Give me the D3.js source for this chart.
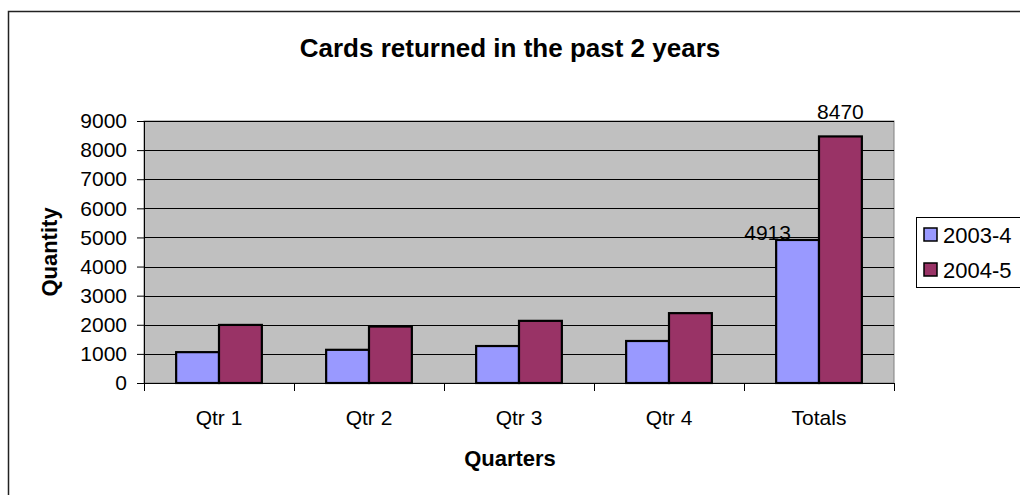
<!DOCTYPE html>
<html>
<head>
<meta charset="utf-8">
<script src="https://cdn.jsdelivr.net/npm/d3@7"></script>
<style>
  body { margin: 0; background: #fff; }
  svg { display: block; font-family: Arial, "Liberation Sans", sans-serif; }
</style>
</head>
<body>
<script>
// Data
var quarters = ["Qtr 1", "Qtr 2", "Qtr 3", "Qtr 4", "Totals"];
var seriesNames = ["2003-4", "2004-5"];
var values0304 = [1060, 1140, 1270, 1443, 4913];
var values0405 = [1995, 1940, 2135, 2400, 8470];
var yTicks = [0, 1000, 2000, 3000, 4000, 5000, 6000, 7000, 8000, 9000];
var colors = ["#9999FF", "#993366"];

var width = 1020, height = 495;

var svg = d3.select("body").append("svg")
    .attr("width", width)
    .attr("height", height);

// chart area border (only left and top show in the crop)
svg.append("path")
    .attr("d", "M8.5," + height + "V11.5H" + width)
    .attr("fill", "none")
    .attr("stroke", "#222")
    .attr("stroke-width", 1.5);

// Title
svg.append("text")
    .attr("x", 510)
    .attr("y", 57)
    .attr("text-anchor", "middle")
    .attr("font-weight", "bold")
    .attr("font-size", "26px")
    .text("Cards returned in the past 2 years");

// Plot area
var plot = { left: 144, right: 894, top: 121, bottom: 383 };

var x = d3.scaleBand()
    .domain(quarters)
    .range([plot.left, plot.right]);

var x1 = d3.scaleBand()
    .domain(seriesNames)
    .range([0, x.bandwidth()])
    .paddingOuter(0.75);

var y = d3.scaleLinear()
    .domain([0, 9000])
    .range([plot.bottom, plot.top]);

svg.append("rect")
    .attr("x", plot.left)
    .attr("y", plot.top)
    .attr("width", plot.right - plot.left)
    .attr("height", plot.bottom - plot.top)
    .attr("fill", "#C0C0C0")
    .attr("stroke", "#808080")
    .attr("stroke-width", 1);

// gridlines
svg.append("g")
    .selectAll("line")
    .data(yTicks.filter(function (d) { return d > 0; }))
    .enter().append("line")
    .attr("x1", plot.left)
    .attr("x2", plot.right)
    .attr("y1", function (d) { return Math.round(y(d)) + 0.5; })
    .attr("y2", function (d) { return Math.round(y(d)) + 0.5; })
    .attr("stroke", "#000")
    .attr("stroke-width", 1);

// Bars
var rows = quarters.map(function (q, i) {
    return { q: q, vals: [values0304[i], values0405[i]] };
});

var groups = svg.append("g")
    .selectAll("g")
    .data(rows)
    .enter().append("g")
    .attr("transform", function (d) { return "translate(" + x(d.q) + ",0)"; });

groups.selectAll("rect")
    .data(function (d) {
        return d.vals.map(function (v, j) { return { s: seriesNames[j], v: v, j: j }; });
    })
    .enter().append("rect")
    .attr("x", function (d) { return x1(d.s); })
    .attr("y", function (d) { return y(d.v); })
    .attr("width", x1.bandwidth())
    .attr("height", function (d) { return y(0) - y(d.v); })
    .attr("fill", function (d) { return colors[d.j]; })
    .attr("stroke", "#000")
    .attr("stroke-width", 2.2);

// Y axis
var yAxis = d3.axisLeft(y)
    .tickValues(yTicks)
    .tickSize(7)
    .tickPadding(10)
    .tickFormat(d3.format("d"));

var gy = svg.append("g")
    .attr("transform", "translate(" + plot.left + ",0)")
    .call(yAxis);
gy.select(".domain").attr("stroke", "#000");
gy.selectAll("text")
    .attr("font-size", "21px")
    .attr("font-family", "Arial, 'Liberation Sans', sans-serif")
    .attr("fill", "#000");

// X axis: ticks at category boundaries
svg.append("line")
    .attr("x1", plot.left)
    .attr("x2", plot.right)
    .attr("y1", plot.bottom + 0.5)
    .attr("y2", plot.bottom + 0.5)
    .attr("stroke", "#000");

var bounds = quarters.map(function (q) { return x(q); }).concat([x(quarters[quarters.length - 1]) + x.bandwidth()]);
svg.append("g")
    .selectAll("line")
    .data(bounds)
    .enter().append("line")
    .attr("x1", function (d) { return Math.round(d) + 0.5; })
    .attr("x2", function (d) { return Math.round(d) + 0.5; })
    .attr("y1", plot.bottom)
    .attr("y2", plot.bottom + 8)
    .attr("stroke", "#000");

svg.append("g")
    .selectAll("text")
    .data(quarters)
    .enter().append("text")
    .attr("x", function (d) { return x(d) + x.bandwidth() / 2; })
    .attr("y", 425)
    .attr("text-anchor", "middle")
    .attr("font-size", "21px")
    .text(function (d) { return d; });

// Axis titles
svg.append("text")
    .attr("x", 510)
    .attr("y", 466)
    .attr("text-anchor", "middle")
    .attr("font-weight", "bold")
    .attr("font-size", "22px")
    .text("Quarters");

svg.append("text")
    .attr("transform", "translate(57,252) rotate(-90)")
    .attr("text-anchor", "middle")
    .attr("font-weight", "bold")
    .attr("font-size", "22px")
    .text("Quantity");

// Data labels on the Totals bars
var last = quarters.length - 1;
var labelOffsets = [{ dx: -30, dy: 0 }, { dx: 0, dy: -17 }];
seriesNames.forEach(function (s, j) {
    var v = j === 0 ? values0304[last] : values0405[last];
    svg.append("text")
        .attr("x", x(quarters[last]) + x1(s) + x1.bandwidth() / 2 + labelOffsets[j].dx)
        .attr("y", y(v) + labelOffsets[j].dy)
        .attr("text-anchor", "middle")
        .attr("font-size", "21px")
        .text(v);
});

// Legend
var legend = svg.append("g")
    .attr("transform", "translate(916,217)");

legend.append("rect")
    .attr("x", 0.5)
    .attr("y", 0.5)
    .attr("width", 110)
    .attr("height", 70)
    .attr("fill", "#fff")
    .attr("stroke", "#000");

var items = legend.selectAll("g.item")
    .data(seriesNames)
    .enter().append("g")
    .attr("class", "item")
    .attr("transform", function (d, i) { return "translate(8," + (18 + i * 35) + ")"; });

items.append("rect")
    .attr("x", 0)
    .attr("y", -7)
    .attr("width", 13)
    .attr("height", 13)
    .attr("fill", function (d, i) { return colors[i]; })
    .attr("stroke", "#000")
    .attr("stroke-width", 1.5);

items.append("text")
    .attr("x", 19)
    .attr("y", 8)
    .attr("font-size", "22px")
    .text(function (d) { return d; });
</script>
</body>
</html>
